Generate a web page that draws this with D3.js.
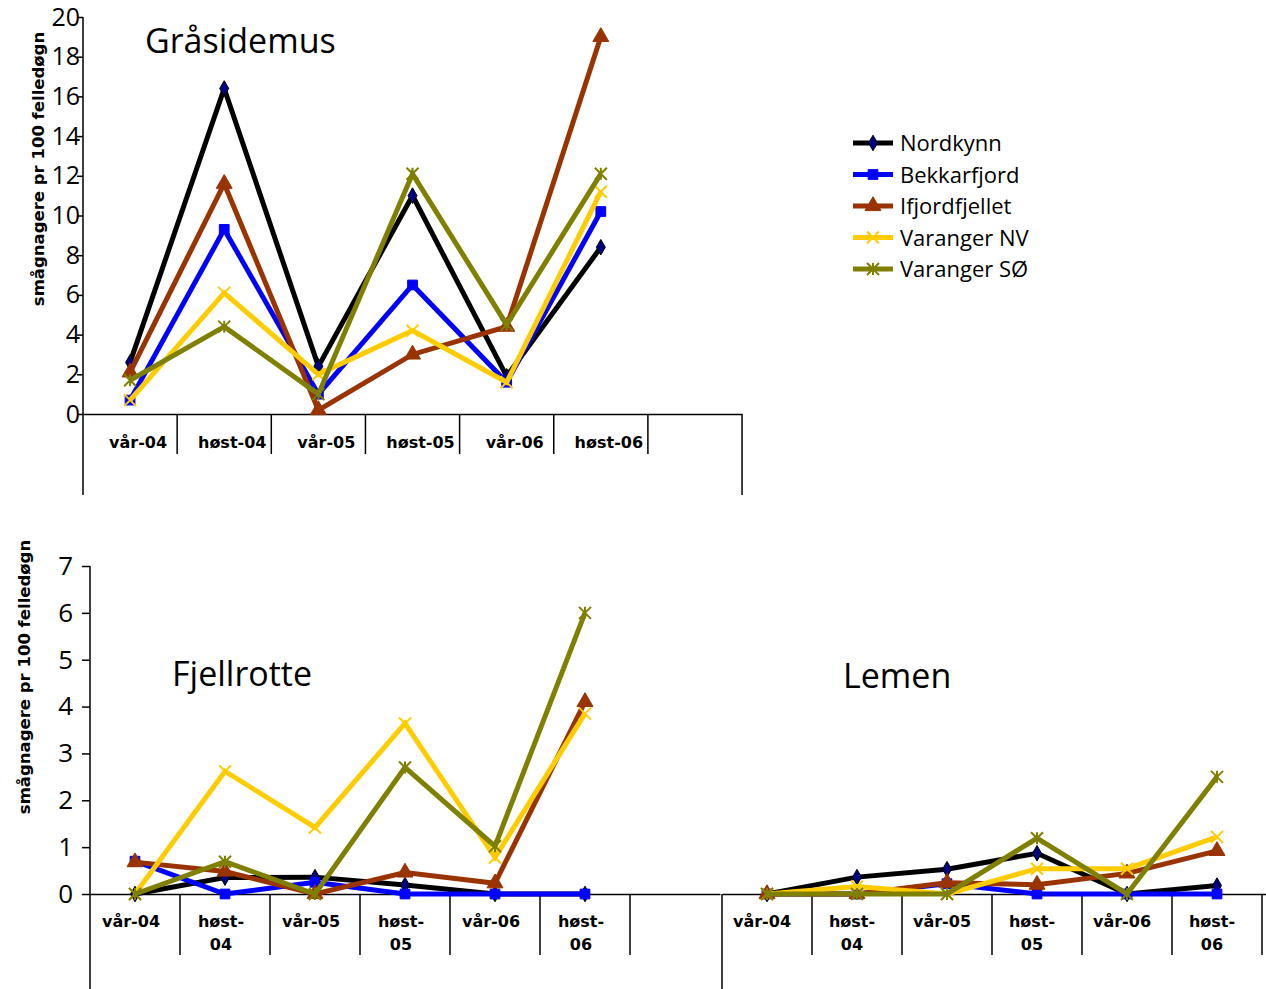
<!DOCTYPE html>
<html>
<head>
<meta charset="utf-8">
<script src="https://cdn.jsdelivr.net/npm/d3@7"></script>
<style>
  body { margin: 0; background: #fff; }
</style>
</head>
<body>
<svg id="chart" width="1266" height="989" style="font-family: 'Open Sans', sans-serif"></svg>
<script>
// categories (7th slot is left empty in the original sheet)
const categories = ["vår-04", "høst-04", "vår-05", "høst-05", "vår-06", "høst-06", "blank"];
const topTickLabels = ["vår-04", "høst-04", "vår-05", "høst-05", "vår-06", "høst-06"];
const bottomTickLabels = [["vår-04"], ["høst-", "04"], ["vår-05"], ["høst-", "05"], ["vår-06"], ["høst-", "06"]];
const seriesNames = ["Nordkynn", "Bekkarfjord", "Ifjordfjellet", "Varanger NV", "Varanger SØ"];

// values per series, same order as seriesNames
const graasidemusValues = [
    [2.6, 16.4, 2.4, 11.0, 1.9, 8.4],
    [0.7, 9.3, 1.0, 6.5, 1.6, 10.2],
    [2.1, 11.6, 0.2, 3.0, 4.4, 19.0],
    [0.7, 6.1, 2.0, 4.2, 1.6, 11.2],
    [1.7, 4.4, 1.0, 12.1, 4.5, 12.1]
];
const fjellrotteValues = [
    [0, 0.35, 0.36, 0.19, 0, 0],
    [0.7, 0, 0.25, 0, 0, 0],
    [0.68, 0.48, 0, 0.46, 0.23, 4.1],
    [0, 2.62, 1.42, 3.64, 0.78, 3.85],
    [0, 0.69, 0, 2.7, 1.02, 6.0]
];
const lemenValues = [
    [0, 0.36, 0.53, 0.87, 0, 0.18],
    [0, 0, 0.22, 0, 0, 0],
    [0, 0, 0.24, 0.2, 0.44, 0.92],
    [0, 0.16, 0, 0.54, 0.54, 1.22],
    [0, 0, 0, 1.19, 0, 2.5]
];
const topYTicks = [0, 2, 4, 6, 8, 10, 12, 14, 16, 18, 20];
const bottomYTicks = [0, 1, 2, 3, 4, 5, 6, 7];

// styling
const lineColors = ["#000000", "#0000ff", "#993300", "#ffcc00", "#808000"];
const markerFill = ["#000080", "#0000ff", "#993300", "none", "none"];
const markerKind = ["diamond", "square", "triangle", "x", "star"];

const svg = d3.select("#chart");

function markerPath(kind) {
    if (kind === "diamond") return d3.symbol().type(d3.symbolDiamond).size(70)();
    if (kind === "square") return d3.symbol().type(d3.symbolSquare).size(95)();
    if (kind === "triangle") return d3.symbol().type(d3.symbolTriangle).size(110)();
    const s = 6;
    let p = `M${-s},${-s}L${s},${s}M${-s},${s}L${s},${-s}`;
    if (kind === "star") p += `M0,${-s}L0,${s}`;
    return p;
}

function drawMarker(g, i, x, y) {
    const k = markerKind[i];
    const m = g.append("path")
        .attr("d", markerPath(k))
        .attr("transform", `translate(${x},${y})`);
    if (k === "x" || k === "star") {
        m.attr("fill", "none").attr("stroke", lineColors[i]).attr("stroke-width", 2);
    } else {
        m.attr("fill", markerFill[i])
            .attr("stroke", k === "diamond" ? "#000" : markerFill[i])
            .attr("stroke-width", 1);
    }
}

function drawChart(opt) {
    const g = svg.append("g");

    const x = d3.scaleBand()
        .domain(categories)
        .range([opt.left, opt.left + opt.band * categories.length]);

    const y = d3.scaleLinear()
        .domain(opt.yDomain)
        .range([opt.zeroY, opt.topY]);

    // y axis
    if (opt.showY) {
        g.append("g")
            .attr("transform", `translate(${opt.left},0)`)
            .call(d3.axisLeft(y).tickValues(opt.yTicks).tickFormat(d3.format("d"))
                .tickSize(opt.tickLen).tickPadding(opt.tickPad).tickSizeOuter(0))
            .call(a => a.select(".domain").remove())
            .call(a => a.selectAll("line").attr("stroke", "#000").attr("stroke-width", 1.5))
            .call(a => a.selectAll("text")
                .attr("fill", "#000")
                .style("font-size", opt.yFont + "px")
                .style("font-family", "'Open Sans', sans-serif"));
    }

    // left axis line runs down to the table bottom
    g.append("line")
        .attr("x1", opt.left).attr("x2", opt.left)
        .attr("y1", opt.showY ? opt.topY : opt.zeroY).attr("y2", opt.tableBottom)
        .attr("stroke", "#000").attr("stroke-width", 1.5);

    // zero line
    g.append("g")
        .attr("transform", `translate(0,${y(0)})`)
        .call(d3.axisBottom(x).tickValues([]).tickSizeOuter(0))
        .call(a => a.select(".domain").attr("stroke", "#000").attr("stroke-width", 1.5));

    // category separators
    categories.slice(1).forEach(c => {
        g.append("line")
            .attr("x1", x(c)).attr("x2", x(c))
            .attr("y1", y(0)).attr("y2", opt.sepBottom)
            .attr("stroke", "#000").attr("stroke-width", 1.5);
    });
    if (opt.rightEnd) {
        const xr = x.range()[1];
        g.append("line")
            .attr("x1", xr).attr("x2", xr)
            .attr("y1", y(0)).attr("y2", opt.tableBottom)
            .attr("stroke", "#000").attr("stroke-width", 1.5);
    }

    // category labels
    opt.labels.forEach((lab, i) => {
        const lines = Array.isArray(lab) ? lab : [lab];
        const t = g.append("text")
            .attr("text-anchor", "middle")
            .attr("fill", "#000")
            .style("font-family", "'DejaVu Sans', sans-serif")
            .style("font-size", "16px")
            .style("font-weight", "bold");
        lines.forEach((s, j) => {
            t.append("tspan")
                .attr("x", x(categories[i]) + x.bandwidth() / 2 + opt.labelShift)
                .attr("y", opt.labelY + j * 23)
                .text(s);
        });
    });

    // series lines
    const line = d3.line()
        .x((d, i) => x(categories[i]) + x.bandwidth() / 2)
        .y(d => y(d));

    opt.values.forEach((vals, i) => {
        g.append("path")
            .datum(vals)
            .attr("d", line)
            .attr("fill", "none")
            .attr("stroke", lineColors[i])
            .attr("stroke-width", 5)
            .attr("stroke-linejoin", "miter");
        vals.forEach((v, j) => drawMarker(g, i, x(categories[j]) + x.bandwidth() / 2, y(v)));
    });

    // title
    g.append("text")
        .attr("x", opt.titleX).attr("y", opt.titleY)
        .attr("fill", "#000")
        .style("font-size", "34px")
        .text(opt.title);

    // y axis title
    if (opt.yTitleX != null) {
        g.append("text")
            .attr("transform", `translate(${opt.yTitleX},${opt.yTitleY}) rotate(-90)`)
            .attr("text-anchor", "middle")
            .attr("fill", "#000")
            .style("font-family", "'DejaVu Sans', sans-serif")
            .style("font-size", "16.5px")
            .style("font-weight", "bold")
            .text("smågnagere pr 100 felledøgn");
    }
}

drawChart({
    title: "Gråsidemus", titleX: 145, titleY: 53,
    values: graasidemusValues,
    left: 83, band: 94.15, zeroY: 414, topY: 17, yDomain: [0, 20], yTicks: topYTicks,
    showY: true, tickLen: 6, tickPad: -3, yFont: 25,
    sepBottom: 454, tableBottom: 495, rightEnd: true,
    labels: topTickLabels, labelY: 448, labelShift: 8,
    yTitleX: 44, yTitleY: 169
});

drawChart({
    title: "Fjellrotte", titleX: 172, titleY: 686,
    values: fjellrotteValues,
    left: 90, band: 90, zeroY: 894, topY: 566, yDomain: [0, 7], yTicks: bottomYTicks,
    showY: true, tickLen: 8, tickPad: 9, yFont: 26,
    sepBottom: 955, tableBottom: 989, rightEnd: false,
    labels: bottomTickLabels, labelY: 927, labelShift: -4,
    yTitleX: 30, yTitleY: 677
});

drawChart({
    title: "Lemen", titleX: 843, titleY: 688,
    values: lemenValues,
    left: 722, band: 90, zeroY: 894, topY: 566, yDomain: [0, 7], yTicks: bottomYTicks,
    showY: false,
    sepBottom: 955, tableBottom: 989, rightEnd: false,
    labels: bottomTickLabels, labelY: 927, labelShift: -5,
    yTitleX: null
});

// legend
const legend = svg.append("g").attr("transform", "translate(853,143)");
seriesNames.forEach((name, i) => {
    const row = legend.append("g").attr("transform", `translate(0,${i * 31.5})`);
    row.append("line")
        .attr("x1", 0).attr("x2", 40)
        .attr("stroke", lineColors[i]).attr("stroke-width", 5);
    drawMarker(row, i, 20, 0);
    row.append("text")
        .attr("x", 47).attr("y", 8)
        .attr("fill", "#000")
        .style("font-size", "22px")
        .text(name);
});
</script>
</body>
</html>
